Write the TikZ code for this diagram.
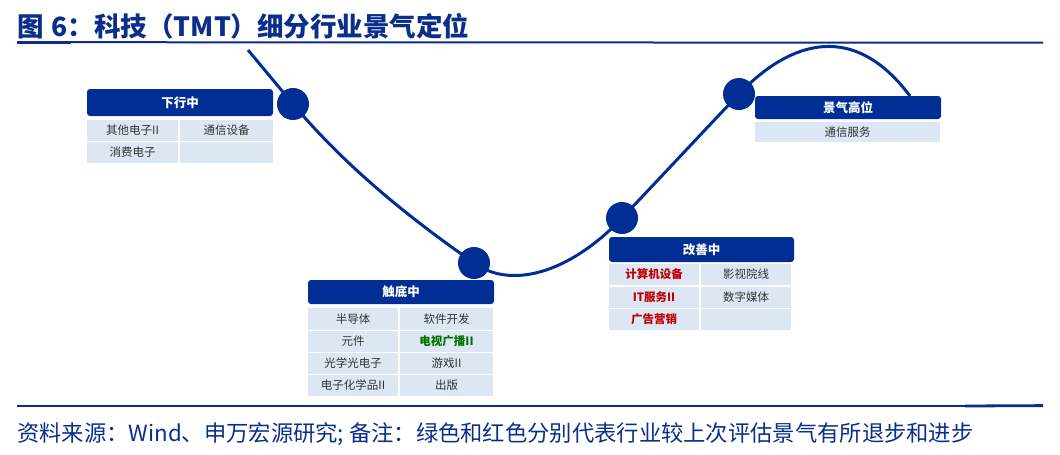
\documentclass[tikz,border=0pt]{standalone}
\usepackage{fontspec}
\setmainfont{Noto Sans CJK SC}
\definecolor{hblue}{RGB}{0,46,148}
\definecolor{tblue}{RGB}{10,46,138}
\definecolor{cblue}{RGB}{221,231,243}
\definecolor{tgray}{RGB}{50,50,50}
\definecolor{tred}{RGB}{192,0,0}
\definecolor{tgreen}{RGB}{0,115,0}
\tikzset{
  hdr/.style={fill=hblue, rounded corners=3pt, text=white, font=\fontsize{12.5}{14}\selectfont\bfseries, inner sep=0pt},
  cell/.style={fill=cblue, text=tgray, font=\fontsize{11.5}{13}\selectfont, inner sep=0pt},
  redc/.style={cell, text=tred, font=\fontsize{11.5}{13}\selectfont\bfseries},
  grnc/.style={cell, text=tgreen, font=\fontsize{11.5}{13}\selectfont\bfseries},
  dot/.style={circle, fill=hblue, minimum size=32pt, inner sep=0pt},
  wave/.style={draw=hblue, line width=3pt},
  rule/.style={draw=tblue, line width=2pt},
}
\begin{document}
\begin{tikzpicture}[x=1pt,y=-1pt]
\useasboundingbox (0,0) rectangle (1060,455);
% title
\node[anchor=base west, inner sep=0pt, text=tblue, font=\fontsize{26.5}{28}\selectfont\bfseries] (title) at (17,36) {图\hspace{8pt}6：科技（TMT）细分行业景气定位};
\coordinate (tl1) at (17,42.2);
\coordinate (tl2) at (71,42.2);
\coordinate (tl3) at (1043,42.7);
\draw[rule, line width=2.8pt] (tl1) -- (tl2);
\draw[rule] (tl2) -- (tl3);
% bottom rule
\coordinate (bl1) at (17,406);
\coordinate (bl2) at (965,406);
\coordinate (bl3) at (1043,405.6);
\draw[rule] (bl1) -- (bl2);
\draw[rule, line width=2.8pt] (bl2) -- (bl3);
\node[anchor=base west, inner sep=0pt, text=tblue, font=\fontsize{22.3}{24}\selectfont] (foot) at (17,441) {资料来源：Wind、申万宏源研究; 备注：绿色和红色分别代表行业较上次评估景气有所退步和进步};
% curve
\coordinate (s) at (248,50);
\coordinate (p1) at (293,104);
\coordinate (p2) at (474,263);
\coordinate (p3) at (622,218);
\coordinate (p4) at (739,94);
\coordinate (e) at (910,96);
\draw[wave] (s) -- (p1)
  .. controls (355,178) and (430,232) .. (p2)
  .. controls (515,292) and (575,268) .. (p3)
  .. controls (660,178) and (700,135) .. (p4)
  .. controls (785,46) and (850,16) .. (e);
\node[dot] (c1) at (p1) {};
\node[dot] (c2) at (p2) {};
\node[dot] (c3) at (p3) {};
\node[dot] (c4) at (p4) {};
% box 1
\node[hdr, minimum width=186pt, minimum height=27pt] (h1) at (180,102.5) {下行中};
\node[cell, minimum width=91pt, minimum height=21pt] (a11) at (132.5,130.5) {其他电子II};
\node[cell, minimum width=93pt, minimum height=21pt] (a12) at (226.5,130.5) {通信设备};
\node[cell, minimum width=91pt, minimum height=21pt] (a21) at (132.5,152.5) {消费电子};
\node[cell, minimum width=93pt, minimum height=21pt] (a22) at (226.5,152.5) {};
% box 2
\node[hdr, minimum width=186pt, minimum height=24pt] (h2) at (401,292) {触底中};
\node[cell, minimum width=90pt, minimum height=22pt] (b11) at (353,319) {半导体};
\node[cell, minimum width=93pt, minimum height=22pt] (b12) at (446.5,319) {软件开发};
\node[cell, minimum width=90pt, minimum height=21pt] (b21) at (353,341.5) {元件};
\node[grnc, minimum width=93pt, minimum height=21pt] (b22) at (446.5,341.5) {电视广播II};
\node[cell, minimum width=90pt, minimum height=21pt] (b31) at (353,363.5) {光学光电子};
\node[cell, minimum width=93pt, minimum height=21pt] (b32) at (446.5,363.5) {游戏II};
\node[cell, minimum width=90pt, minimum height=21pt] (b41) at (353,385.5) {电子化学品II};
\node[cell, minimum width=93pt, minimum height=21pt] (b42) at (446.5,385.5) {出版};
% box 3
\node[hdr, minimum width=185pt, minimum height=25pt] (h3) at (701.5,249.5) {改善中};
\node[redc, minimum width=90pt, minimum height=21pt] (d11) at (654,274.5) {计算机设备};
\node[cell, minimum width=90pt, minimum height=21pt] (d12) at (746,274.5) {影视院线};
\node[redc, minimum width=90pt, minimum height=21pt] (d21) at (654,297.5) {IT服务II};
\node[cell, minimum width=90pt, minimum height=21pt] (d22) at (746,297.5) {数字媒体};
\node[redc, minimum width=90pt, minimum height=21pt] (d31) at (654,319.5) {广告营销};
\node[cell, minimum width=90pt, minimum height=21pt] (d32) at (746,319.5) {};
% box 4
\node[hdr, minimum width=186pt, minimum height=23pt] (h4) at (848,107.5) {景气高位};
\node[cell, minimum width=185pt, minimum height=20pt] (e11) at (847.5,132) {通信服务};
\end{tikzpicture}
\end{document}
